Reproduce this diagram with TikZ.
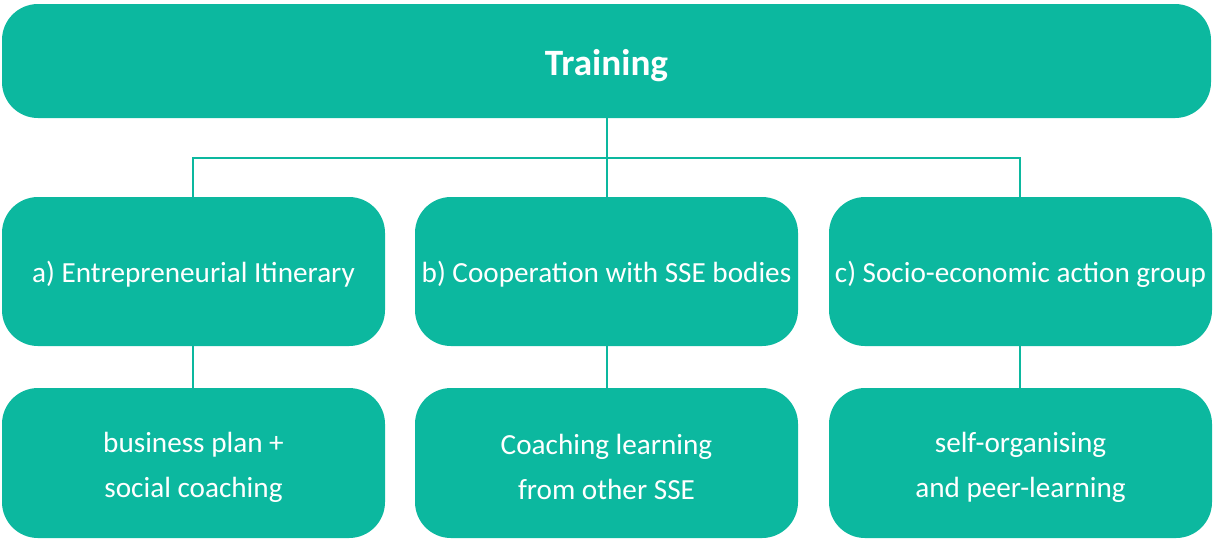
\documentclass[tikz,border=0pt]{standalone}
\usepackage{fontspec}
\setmainfont{Carlito}
\definecolor{teal}{HTML}{0CB89F}
\begin{document}
\begin{tikzpicture}[x=0.5pt,y=-0.5pt,
  box/.style={fill=teal,draw=none,rounded corners=18pt},
  lbl/.style={text=white,font=\fontsize{14.6}{22.5}\selectfont,align=center,inner sep=0pt},
  conn/.style={draw=teal,line width=1.2pt}]
\useasboundingbox (0,0) rectangle (1213,538);
\path[box] (2,4) rectangle (1211,118);
\node[text=white,inner sep=0pt,font=\fontsize{18.6}{22}\selectfont\bfseries] (top) at (606.5,66) {Training};
\path[box] (2,197) rectangle (385,346);
\path[box] (415,197) rectangle (798,346);
\path[box] (829,197) rectangle (1212,346);
\path[box] (2,388) rectangle (385,538);
\path[box] (415,388) rectangle (798,538);
\path[box] (829,388) rectangle (1212,538);
\node[lbl] (a) at (193.5,274) {a) Entrepreneurial Itinerary};
\node[lbl] (b) at (606.5,274) {b) Cooperation with SSE bodies};
\node[lbl] (c) at (1020.5,274) {c) Socio-economic action group};
\node[lbl] (d) at (193.5,467) {business plan +\\social coaching};
\node[lbl] (e) at (606.5,467) {Coaching learning\\from other SSE};
\node[lbl] (f) at (1020.5,467) {self-organising\\and peer-learning};
\coordinate (tb) at (607,118);
\coordinate (j) at (607,158);
\coordinate (ja) at (193,158);
\coordinate (jc) at (1020,158);
\coordinate (at) at (193,197);
\coordinate (bt) at (607,197);
\coordinate (ct) at (1020,197);
\coordinate (ab) at (193,346);
\coordinate (bb) at (607,346);
\coordinate (cb) at (1020,346);
\coordinate (dt) at (193,388);
\coordinate (et) at (607,388);
\coordinate (ft) at (1020,388);
\draw[conn] (tb) -- (bt);
\draw[conn] (at) -- (ja) -- (jc) -- (ct);
\draw[conn] (ab) -- (dt);
\draw[conn] (bb) -- (et);
\draw[conn] (cb) -- (ft);
\end{tikzpicture}
\end{document}
